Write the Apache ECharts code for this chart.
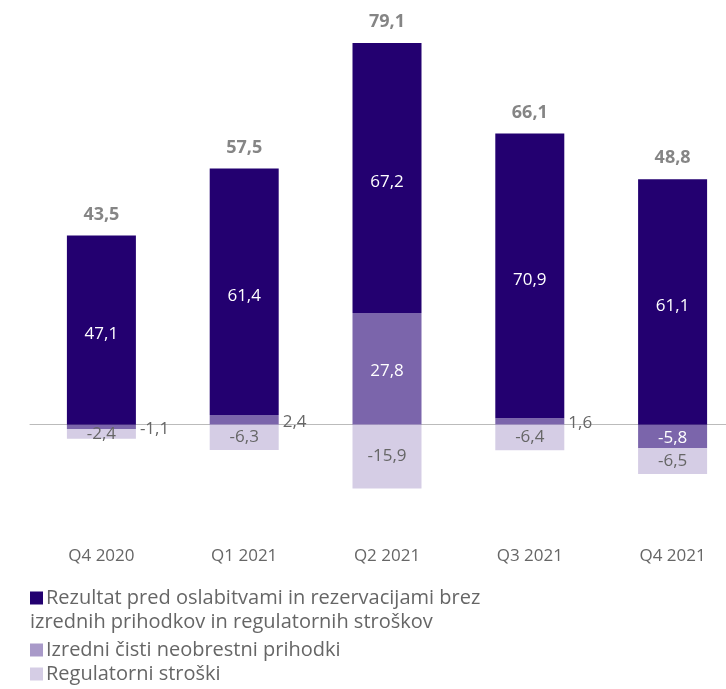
<!DOCTYPE html>
<html>
<head>
<meta charset="utf-8">
<script src="https://cdn.jsdelivr.net/npm/echarts@6/dist/echarts.min.js"></script>
<style>
  html, body { margin: 0; padding: 0; background: #fff; }
  #chart { width: 726px; height: 689px; }
</style>
</head>
<body>
<div id="chart"></div>
<script>
// podatki
const quarters = ['Q4 2020', 'Q1 2021', 'Q2 2021', 'Q3 2021', 'Q4 2021']
const core = [47.1, 61.4, 67.2, 70.9, 61.1]
const extra = [-1.1, 2.4, 27.8, 1.6, -5.8]
const regulatory = [-2.4, -6.3, -15.9, -6.4, -6.5]
const totals = [43.5, 57.5, 79.1, 66.1, 48.8]

const names = [
  'Rezultat pred oslabitvami in rezervacijami brez',
  'Izredni čisti neobrestni prihodki',
  'Regulatorni stroški'
]

const FONT = '"Open Sans", sans-serif'
const GRAY = '#666'
const fmt = (v) => v.toFixed(1).replace('.', ',')

// vrh pozitivnega dela stolpca (za oznako skupaj)
const posTop = quarters.map((q, i) =>
  [core[i], extra[i], regulatory[i]].filter((v) => v > 0).reduce((a, b) => a + b, 0)
)

// majhne vrednosti izven stolpca
const extraData = extra.map((v) =>
  Math.abs(v) < 3
    ? { value: v, label: { position: 'right', color: GRAY, distance: 4 } }
    : v
)

const myChart = echarts.init(document.getElementById('chart'))

const legendText = { color: GRAY, fontSize: 20, fontFamily: FONT, lineHeight: 20, padding: [0, 0, 0, -2] }

const option = {
  animation: false,
  textStyle: { fontFamily: FONT },
  grid: { left: 30, width: 714, top: 23, height: 482, outerBoundsMode: 'none', containLabel: false },
  xAxis: {
    type: 'category',
    data: quarters,
    axisTick: { show: false },
    axisLine: { onZero: true, lineStyle: { color: '#bbb', width: 1 } },
    axisLabel: {
      color: GRAY,
      fontSize: 17,
      fontFamily: FONT,
      interval: 0,
      margin: 43
    },
    position: 'bottom'
  },
  yAxis: {
    type: 'value',
    min: -20,
    max: 100,
    show: false
  },
  legend: [
    {
      left: 30,
      top: 588,
      padding: 0,
      orient: 'vertical',
      itemWidth: 13,
      itemHeight: 13,
      itemGap: 4,
      icon: 'rect',
      selectedMode: false,
      textStyle: legendText,
      data: [{ name: names[0], itemStyle: { color: '#230070' } }]
    },
    {
      left: 30,
      top: 640,
      padding: 0,
      orient: 'vertical',
      itemWidth: 13,
      itemHeight: 13,
      itemGap: 4,
      icon: 'rect',
      selectedMode: false,
      textStyle: legendText,
      data: [
        { name: names[1], itemStyle: { color: '#a99ac9' } },
        { name: names[2], itemStyle: { color: '#d5cde5' } }
      ]
    }
  ],
  graphic: [
    {
      type: 'text',
      left: 30,
      top: 612,
      style: {
        text: 'izrednih prihodkov in regulatornih stroškov',
        fill: GRAY,
        fontSize: 20,
        fontFamily: FONT
      }
    }
  ],
  series: [
    {
      name: names[1],
      type: 'bar',
      stack: 'total',
      barWidth: 69,
      itemStyle: { color: '#7b65ab' },
      label: {
        show: true,
        position: 'inside',
        color: '#fff',
        fontSize: 17,
        offset: [0, 2],
        formatter: (p) => fmt(p.value)
      },
      data: extraData
    },
    {
      name: names[0],
      type: 'bar',
      stack: 'total',
      barWidth: 69,
      itemStyle: { color: '#230070' },
      label: {
        show: true,
        position: 'inside',
        color: '#fff',
        fontSize: 17,
        offset: [0, 4],
        formatter: (p) => fmt(p.value)
      },
      data: core
    },
    {
      name: names[2],
      type: 'bar',
      stack: 'total',
      barWidth: 69,
      itemStyle: { color: '#d5cde5' },
      label: {
        show: true,
        position: 'inside',
        color: GRAY,
        fontSize: 17,
        formatter: (p) => fmt(p.value)
      },
      data: regulatory
    },
    {
      name: 'skupaj',
      type: 'scatter',
      symbolSize: 0,
      silent: true,
      label: {
        show: true,
        position: 'top',
        distance: 12,
        color: GRAY,
        fontSize: 18,
        fontWeight: 'bold',
        formatter: (p) => fmt(totals[p.dataIndex])
      },
      data: posTop
    }
  ]
}

myChart.setOption(option)
</script>
</body>
</html>
